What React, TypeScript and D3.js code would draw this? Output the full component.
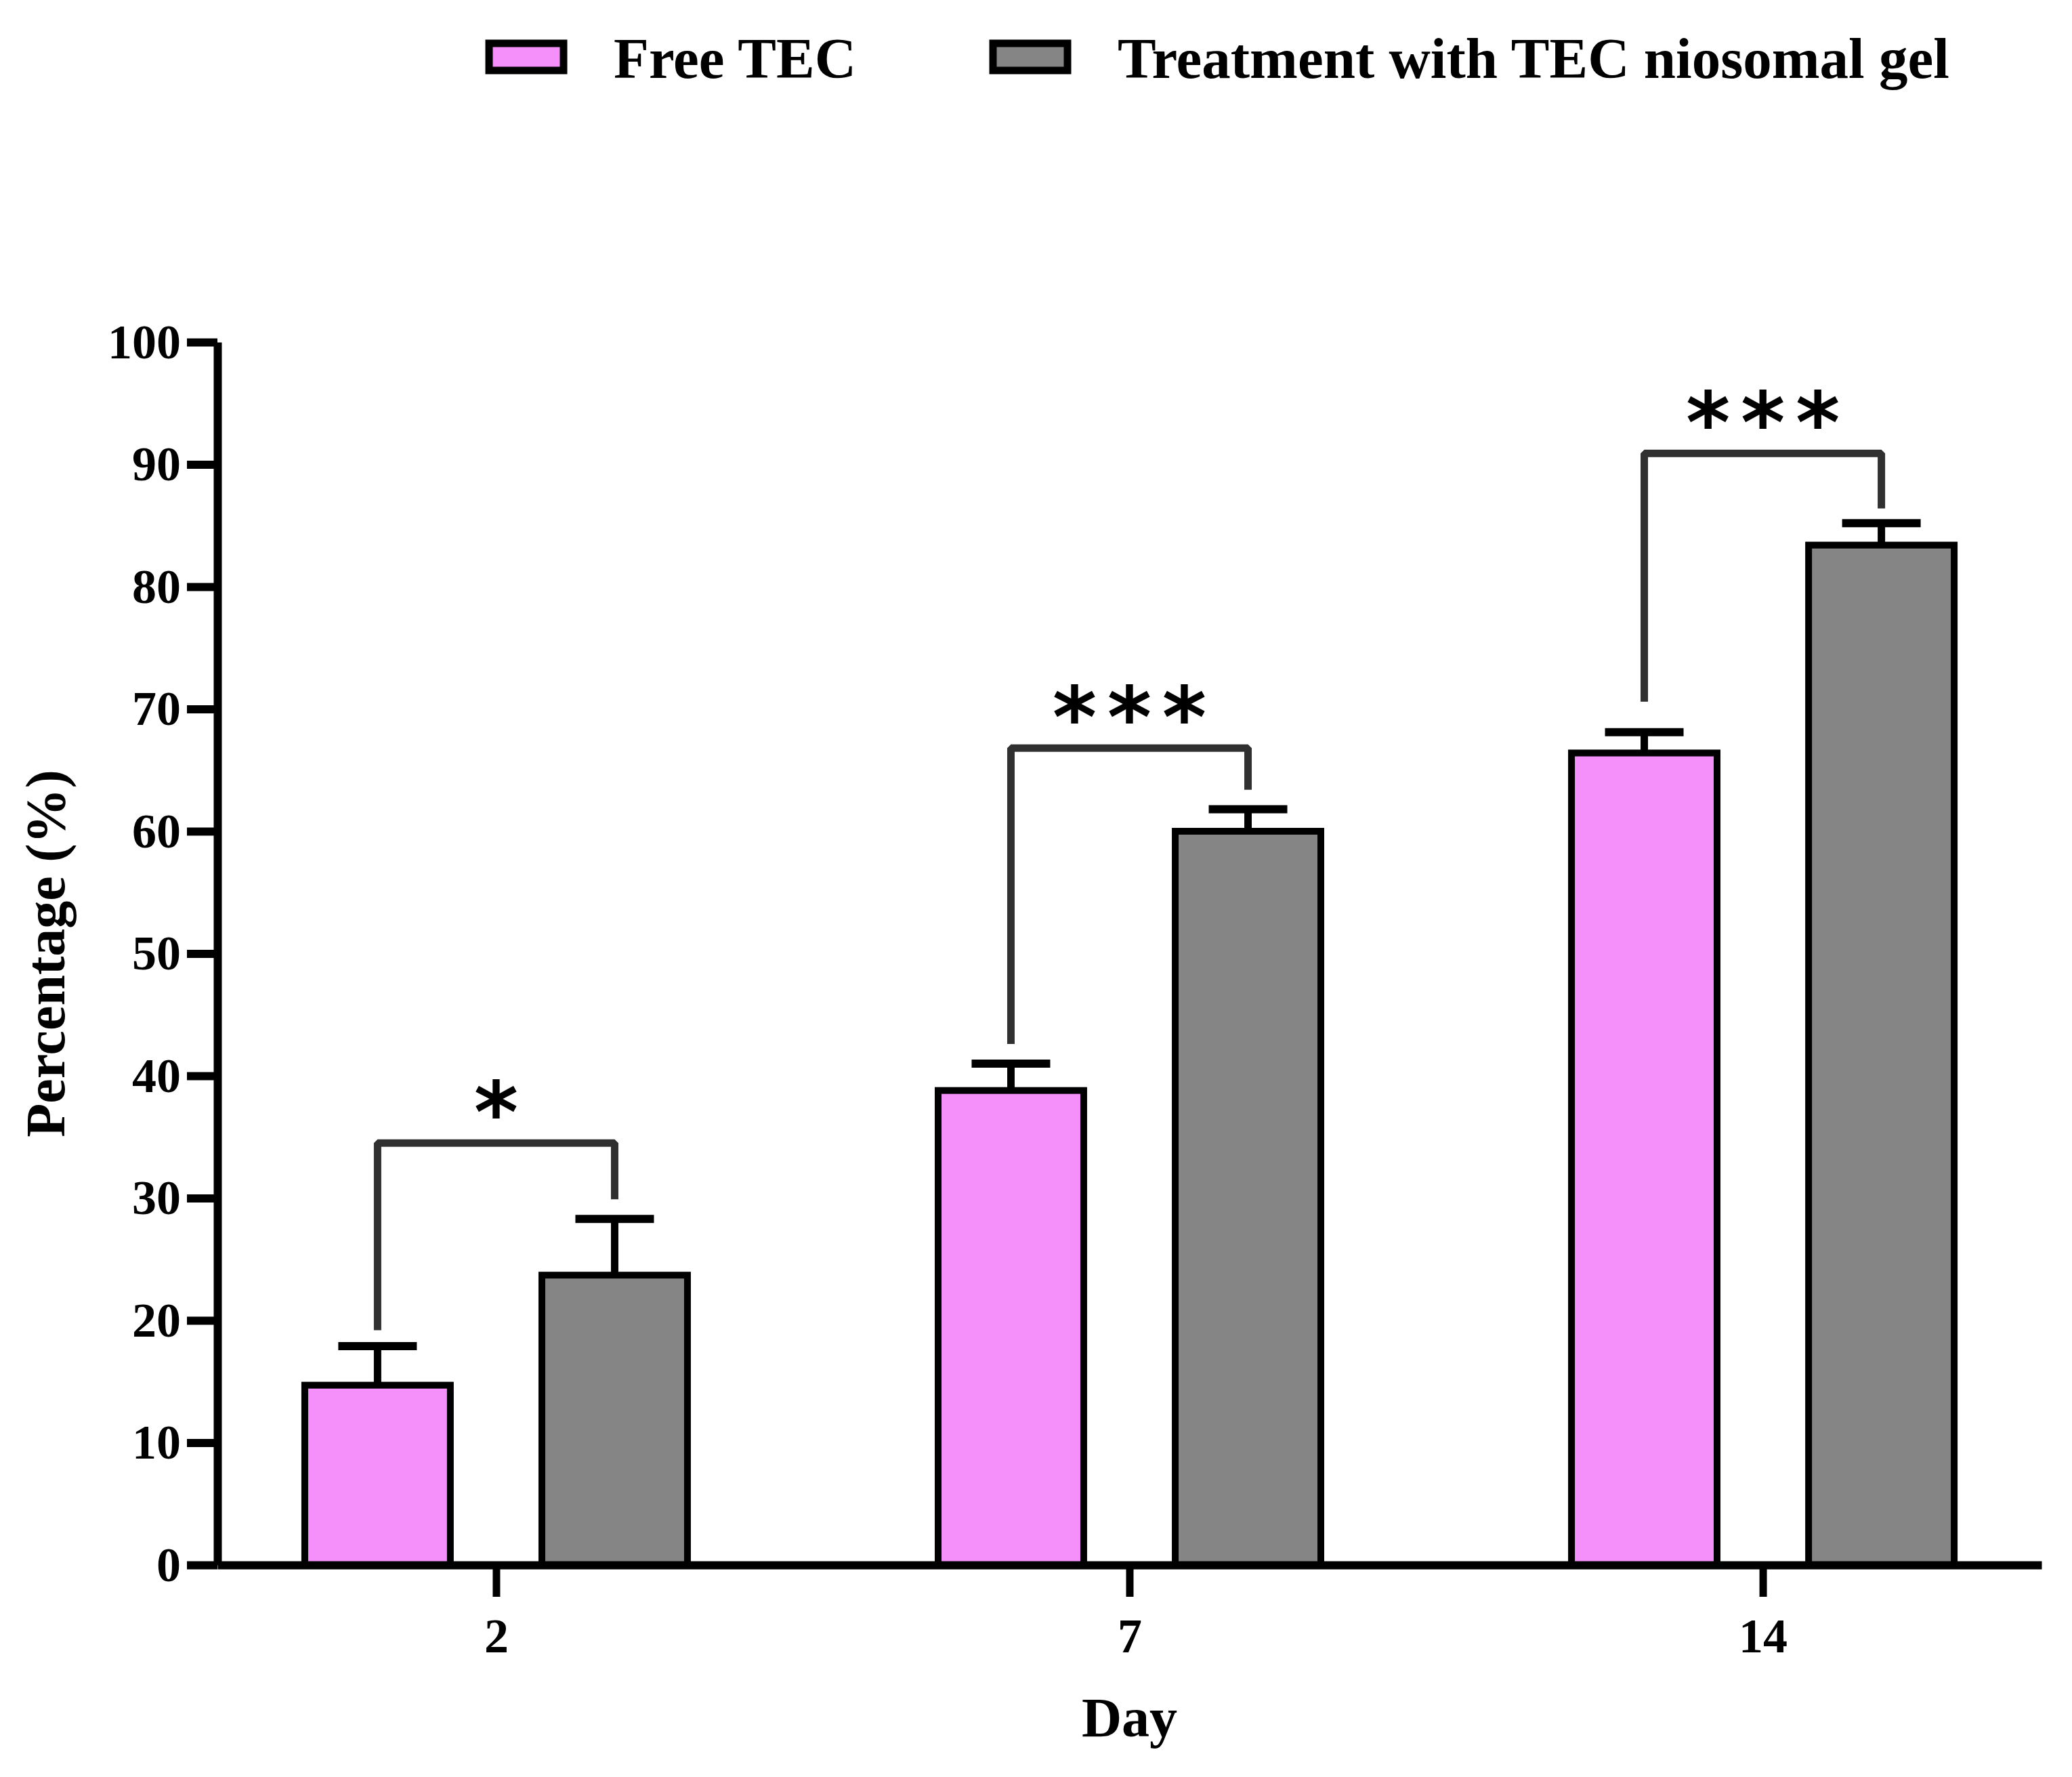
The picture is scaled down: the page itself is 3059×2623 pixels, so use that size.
import { useEffect, useRef } from "react"
import * as d3 from "d3"

// Data
const days = ["2", "7", "14"]
const seriesNames = ["Free TEC", "Treatment with TEC niosomal gel"]
const freeTEC = [14.7, 38.8, 66.4]
const freeTECErr = [3.2, 2.2, 1.7]
const niosomalGel = [23.7, 60.0, 83.4]
const niosomalGelErr = [4.6, 1.8, 1.8]
const yTicks = [0, 10, 20, 30, 40, 50, 60, 70, 80, 90, 100]

// significance brackets
const bracketTop = [34.5, 66.8, 90.9]
const bracketLeftEnd = [19.2, 42.6, 70.6]
const bracketRightEnd = [29.9, 63.4, 86.4]
const significance = ["*", "***", "***"]

const colors = ["#f590fa", "#858585"]

const W = 3059
const H = 2623
const FONT = "'Liberation Serif', 'Times New Roman', serif"

export default function App() {
  const svgRef = useRef<SVGSVGElement>(null)

  useEffect(() => {
    if (!svgRef.current) return
    const root = d3.select(svgRef.current)
    root.selectAll("*").remove()

    // plot frame
    const left = 321
    const right = 3014
    const top = 505
    const bottom = 2310

    const svg = root.append("g")

    const x = d3.scalePoint<string>().domain(days).range([left, right]).padding(0.44)
    const x1 = d3.scaleBand<string>().domain(seriesNames).range([-282.5, 282.5]).paddingInner(0.386)
    const y = d3.scaleLinear().domain([0, 100]).range([bottom, top])

    const rows = days.map((d, i) => ({
      day: d,
      i,
      values: [
        { name: seriesNames[0], v: freeTEC[i], e: freeTECErr[i], c: colors[0] },
        { name: seriesNames[1], v: niosomalGel[i], e: niosomalGelErr[i], c: colors[1] },
      ],
    }))

    // error bars
    const eb = svg.append("g").attr("stroke", "#000").attr("stroke-width", 11)
    rows.forEach((r) => {
      r.values.forEach((s) => {
        const cx = (x(r.day) ?? 0) + (x1(s.name) ?? 0) + x1.bandwidth() / 2
        eb.append("line").attr("x1", cx).attr("x2", cx).attr("y1", y(s.v)).attr("y2", y(s.v + s.e))
        eb.append("line")
          .attr("x1", cx - 58)
          .attr("x2", cx + 58)
          .attr("y1", y(s.v + s.e))
          .attr("y2", y(s.v + s.e))
          .attr("stroke-width", 12)
      })
    })

    // bars
    const groups = svg
      .selectAll(".grp")
      .data(rows)
      .enter()
      .append("g")
      .attr("transform", (d) => `translate(${x(d.day)},0)`)
    groups
      .selectAll("rect")
      .data((d) => d.values)
      .enter()
      .append("rect")
      .attr("x", (d) => x1(d.name) ?? 0)
      .attr("y", (d) => y(d.v))
      .attr("width", x1.bandwidth())
      .attr("height", (d) => bottom - y(d.v))
      .attr("fill", (d) => d.c)
      .attr("stroke", "#000")
      .attr("stroke-width", 10)

    // significance brackets
    rows.forEach((r) => {
      const xl = (x(r.day) ?? 0) + (x1(seriesNames[0]) ?? 0) + x1.bandwidth() / 2
      const xr = (x(r.day) ?? 0) + (x1(seriesNames[1]) ?? 0) + x1.bandwidth() / 2
      const path = d3.path()
      path.moveTo(xl, y(bracketLeftEnd[r.i]))
      path.lineTo(xl, y(bracketTop[r.i]))
      path.lineTo(xr, y(bracketTop[r.i]))
      path.lineTo(xr, y(bracketRightEnd[r.i]))
      svg
        .append("path")
        .attr("d", path.toString())
        .attr("fill", "none")
        .attr("stroke", "#303030")
        .attr("stroke-width", 11)
        .attr("stroke-linejoin", "bevel")

      const stars = significance[r.i].split("")
      const mid = (xl + xr) / 2
      stars.forEach((s, k) => {
        svg
          .append("text")
          .attr("x", mid + (k - (stars.length - 1) / 2) * 81)
          .attr("y", y(bracketTop[r.i]) - 74)
          .attr("dy", "0.58em")
          .attr("text-anchor", "middle")
          .attr("font-family", "'DejaVu Sans', sans-serif")
          .attr("font-weight", "bold")
          .attr("font-size", 125)
          .attr("fill", "#000")
          .text(s)
      })
    })

    // y axis
    const ya = svg
      .append("g")
      .attr("transform", `translate(${left},0)`)
      .call(d3.axisLeft(y).tickValues(yTicks).tickSize(45).tickSizeOuter(0).tickPadding(9))
    ya.select(".domain").attr("stroke", "#000").attr("stroke-width", 12)
    ya.selectAll(".tick line").attr("stroke", "#000").attr("stroke-width", 12)
    ya.selectAll(".tick text")
      .attr("font-family", FONT)
      .attr("font-weight", "bold")
      .attr("font-size", 72)
      .attr("fill", "#000")

    // x axis
    const xa = svg
      .append("g")
      .attr("transform", `translate(0,${bottom})`)
      .call(d3.axisBottom(x).tickSize(47).tickSizeOuter(0).tickPadding(31))
    xa.select(".domain").attr("stroke", "#000").attr("stroke-width", 12)
    xa.selectAll(".tick line").attr("stroke", "#000").attr("stroke-width", 11)
    xa.selectAll(".tick text")
      .attr("font-family", FONT)
      .attr("font-weight", "bold")
      .attr("font-size", 72)
      .attr("fill", "#000")

    // axis titles
    svg
      .append("text")
      .attr("x", (left + right) / 2)
      .attr("y", 2563)
      .attr("text-anchor", "middle")
      .attr("font-family", FONT)
      .attr("font-weight", "bold")
      .attr("font-size", 82)
      .text("Day")

    svg
      .append("text")
      .attr("transform", `translate(95,${(top + bottom) / 2}) rotate(-90)`)
      .attr("text-anchor", "middle")
      .attr("font-family", FONT)
      .attr("font-weight", "bold")
      .attr("font-size", 82)
      .text("Percentage (%)")

    // legend
    const legendX = [722, 1466]
    const legend = svg
      .selectAll(".leg")
      .data(seriesNames)
      .enter()
      .append("g")
      .attr("transform", (_d, i) => `translate(${legendX[i]},64)`)
    legend
      .append("rect")
      .attr("width", 110)
      .attr("height", 40)
      .attr("fill", (_d, i) => colors[i])
      .attr("stroke", "#000")
      .attr("stroke-width", 11)
    legend
      .append("text")
      .attr("x", 184)
      .attr("y", 51)
      .attr("font-family", FONT)
      .attr("font-weight", "bold")
      .attr("font-size", 85)
      .text((d) => d)
  }, [])

  return (
    <div style={{ position: "absolute", left: 0, top: 0, background: "#fff" }}>
      <svg ref={svgRef} width={W} height={H} style={{ display: "block" }}></svg>
    </div>
  )
}
